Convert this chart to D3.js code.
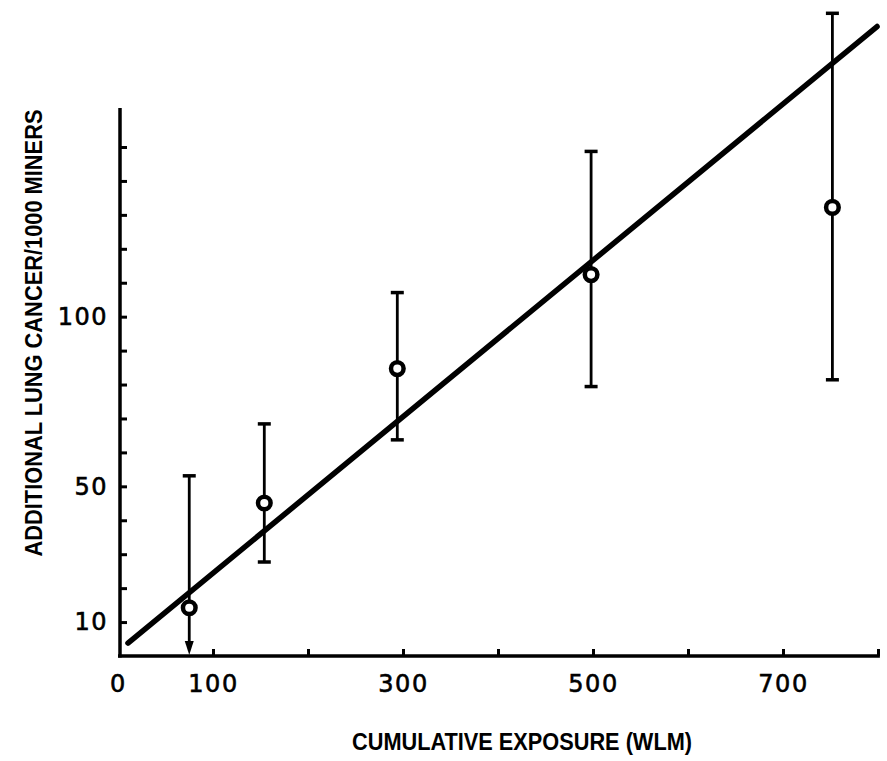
<!DOCTYPE html>
<html>
<head>
<meta charset="utf-8">
<script src="https://cdn.jsdelivr.net/npm/d3@7"></script>
<style>
  body { margin: 0; background: #fff; }
  svg { display: block; }
  .tick text { font-family: "DejaVu Sans", sans-serif; font-size: 24px; fill: #000; stroke: #000; stroke-width: 0.6; }
  .tick line { stroke: #000; stroke-width: 3; }
  .domain { display: none; }
</style>
</head>
<body>
<div id="chart"></div>
<script>
// data
var exposure = [75, 154, 294, 498, 752];
var cancer   = [14.2, 45.1, 84.7, 112.4, 132.2];
var errHigh  = [53.1, 68.4, 107.1, 148.7, 189.4];
var errLow   = [0, 27.7, 63.7, 79.4, 81.4];   // first one has an arrow down
var fitX = [10.5, 799];
var fitY = [3.8, 185.5];
var xTicks = [0, 100, 200, 300, 400, 500, 600, 700, 800];
var xLabels = [0, 100, 300, 500, 700];
var yTicks = [10, 20, 30, 40, 50, 60, 70, 80, 90, 100, 110, 120, 130, 140, 150];
var yLabels = [10, 50, 100];

var svg = d3.select('#chart')
    .append('svg')
    .attr('width', 887)
    .attr('height', 761);

var xScale = d3.scaleLinear().domain([0, 800]).range([118, 878]);
var yScale = d3.scaleLinear().domain([0, 150]).range([656, 147]);

// axis lines
svg.append('line')
    .attr('x1', xScale(0)).attr('x2', xScale(802))
    .attr('y1', yScale(0)).attr('y2', yScale(0))
    .attr('stroke', '#000').attr('stroke-width', 3.5);
svg.append('line')
    .attr('x1', xScale(0) + 2).attr('x2', xScale(0) + 2)
    .attr('y1', yScale(0) + 1.5).attr('y2', yScale(161.5))
    .attr('stroke', '#000').attr('stroke-width', 3.5);

var xAxis = d3.axisBottom(xScale)
    .tickValues(xTicks)
    .tickSizeInner(-7).tickSizeOuter(0).tickPadding(19)
    .tickFormat(function(d) { return xLabels.indexOf(d) >= 0 ? d : ''; });
var yAxis = d3.axisLeft(yScale)
    .tickValues(yTicks)
    .tickSizeInner(-7).tickSizeOuter(0).tickPadding(12)
    .tickFormat(function(d) { return yLabels.indexOf(d) >= 0 ? d : ''; });

svg.append('g')
    .attr('class', 'x axis')
    .attr('transform', 'translate(0,' + yScale(0) + ')')
    .call(xAxis)
    .selectAll('text').attr('letter-spacing', 1.5);
svg.select('.x.axis').selectAll('.tick').filter(function(d) { return d === 0; })
    .select('line').remove();

svg.append('g')
    .attr('class', 'y axis')
    .attr('transform', 'translate(' + (xScale(0) + 2) + ',0)')
    .call(yAxis)
    .selectAll('text').attr('letter-spacing', 1.5);

// fitted line
svg.append('line')
    .attr('x1', xScale(fitX[0])).attr('y1', yScale(fitY[0]))
    .attr('x2', xScale(fitX[1])).attr('y2', yScale(fitY[1]))
    .attr('stroke', '#000').attr('stroke-width', 5.5).attr('stroke-linecap', 'round');

// error bars
var pts = exposure.map(function(x, i) {
    return { x: x, y: cancer[i], hi: errHigh[i], lo: errLow[i] };
});

svg.selectAll('.err')
    .data(pts)
    .enter().append('line')
    .attr('class', 'err')
    .attr('x1', function(d) { return xScale(d.x); })
    .attr('x2', function(d) { return xScale(d.x); })
    .attr('y1', function(d) { return yScale(d.hi); })
    .attr('y2', function(d, i) { return i === 0 ? yScale(d.lo) - 10 : yScale(d.lo); })
    .attr('stroke', '#000').attr('stroke-width', 2.8);

svg.selectAll('.capTop')
    .data(pts)
    .enter().append('line')
    .attr('x1', function(d) { return xScale(d.x) - 6.5; })
    .attr('x2', function(d) { return xScale(d.x) + 6.5; })
    .attr('y1', function(d) { return yScale(d.hi); })
    .attr('y2', function(d) { return yScale(d.hi); })
    .attr('stroke', '#000').attr('stroke-width', 3.5);

svg.selectAll('.capBot')
    .data(pts.slice(1))
    .enter().append('line')
    .attr('x1', function(d) { return xScale(d.x) - 6.5; })
    .attr('x2', function(d) { return xScale(d.x) + 6.5; })
    .attr('y1', function(d) { return yScale(d.lo); })
    .attr('y2', function(d) { return yScale(d.lo); })
    .attr('stroke', '#000').attr('stroke-width', 3.5);

// arrow on the first point
var p0 = pts[0];
svg.append('path')
    .attr('d', 'M' + (xScale(p0.x) - 4.5) + ',' + (yScale(0) - 15) +
               'L' + (xScale(p0.x) + 4.5) + ',' + (yScale(0) - 15) +
               'L' + xScale(p0.x) + ',' + (yScale(0) - 1) + 'Z')
    .attr('fill', '#000');

// points
svg.selectAll('.pt')
    .data(pts)
    .enter().append('circle')
    .attr('class', 'pt')
    .attr('cx', function(d) { return xScale(d.x); })
    .attr('cy', function(d) { return yScale(d.y); })
    .attr('r', 6.3)
    .attr('fill', '#fff').attr('stroke', '#000').attr('stroke-width', 4.5);

// axis titles
svg.append('text')
    .attr('x', 522).attr('y', 750)
    .attr('text-anchor', 'middle')
    .attr('font-family', '"Liberation Sans", sans-serif')
    .attr('font-weight', 'bold')
    .attr('font-size', 23)
    .attr('textLength', 340).attr('lengthAdjust', 'spacingAndGlyphs')
    .text('CUMULATIVE  EXPOSURE (WLM)');

svg.append('text')
    .attr('transform', 'translate(42,333) rotate(-90)')
    .attr('text-anchor', 'middle')
    .attr('font-family', '"Liberation Sans", sans-serif')
    .attr('font-weight', 'bold')
    .attr('font-size', 23)
    .attr('textLength', 447).attr('lengthAdjust', 'spacingAndGlyphs')
    .text('ADDITIONAL  LUNG CANCER/1000   MINERS');
</script>
</body>
</html>
